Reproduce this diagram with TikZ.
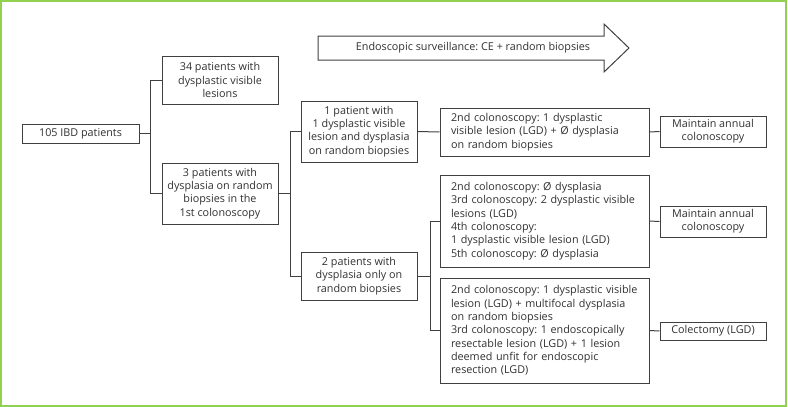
\documentclass[tikz,border=0pt]{standalone}
\usepackage{fontspec}
\setmainfont{Open Sans}
\frenchspacing
\definecolor{boxgray}{HTML}{404040}
\definecolor{txtgray}{HTML}{303030}
\definecolor{framegreen}{HTML}{92D050}
\tikzset{
  box/.style={draw=boxgray, line width=1pt, inner sep=0pt, text=txtgray, align=center,
    font=\fontsize{10.8}{13.3}\selectfont},
  lbox/.style={box, align=left, inner xsep=11pt, text width=187pt},
  conn/.style={draw=boxgray, line width=1pt},
}
\begin{document}
\begin{tikzpicture}[x=1pt,y=-1pt]
\useasboundingbox (0,0) rectangle (788,407);
\draw[framegreen, line width=1.8pt] (1,1) rectangle (786.3,405.8);

% arrow
\draw[boxgray, line width=1pt, fill=white] (318,36) -- (604,36) -- (604,24) -- (629,48) -- (604,72) -- (604,60) -- (318,60) -- cycle;
\node[text=txtgray, font=\fontsize{10.8}{13.3}\selectfont] (arrowtxt) at (473,48) {Endoscopic surveillance: CE + random biopsies};

\node[box, minimum width=117pt, minimum height=19pt] (n105) at (80.5,133.5) {105 IBD patients};
\node[box, minimum width=116pt, minimum height=48pt] (n34) at (220,80) {34 patients with\\dysplastic visible\\lesions};
\node[box, minimum width=116pt, minimum height=61pt] (n3) at (220,193.5) {3 patients with\\dysplasia on random\\biopsies in the\\1st colonoscopy};
\node[box, minimum width=116pt, minimum height=61pt] (n1) at (359,131.5) {1 patient with\\1 dysplastic visible\\lesion and dysplasia\\on random biopsies};
\node[box, minimum width=116pt, minimum height=48pt] (n2) at (359,276) {2 patients with\\dysplasia only on\\random biopsies};

\node[lbox, minimum height=48pt] (c1) at (544.5,132) {2nd colonoscopy: 1 dysplastic\\visible lesion (LGD) + Ø dysplasia\\on random biopsies};
\node[lbox, minimum height=92pt] (c2) at (544.5,221) {2nd colonoscopy: Ø dysplasia\\3rd colonoscopy: 2 dysplastic visible\\lesions (LGD)\\4th colonoscopy:\\1 dysplastic visible lesion (LGD)\\5th colonoscopy: Ø dysplasia};
\node[lbox, minimum height=105pt] (c3) at (544.5,330.5) {2nd colonoscopy: 1 dysplastic visible\\lesion (LGD) + multifocal dysplasia\\on random biopsies\\3rd colonoscopy: 1 endoscopically\\resectable lesion (LGD) + 1 lesion\\deemed unfit for endoscopic\\resection (LGD)};

\node[box, minimum width=106pt, minimum height=31pt] (m1) at (713,131.5) {Maintain annual\\colonoscopy};
\node[box, minimum width=106pt, minimum height=31pt] (m2) at (713,221.5) {Maintain annual\\colonoscopy};
\node[box, minimum width=106pt, minimum height=18pt] (col) at (713,331) {Colectomy (LGD)};

\draw[conn] (n105.east) -- ++(11,0) |- (n34.west);
\draw[conn] (n105.east) -- ++(11,0) |- (n3.west);
\draw[conn] (n3.east) -- ++(12,0) |- (n1.west);
\draw[conn] (n3.east) -- ++(12,0) |- (n2.west);
\draw[conn] (n1.east) -- (c1.west);
\draw[conn] (n2.east) -- ++(13,0) |- (c2.west);
\draw[conn] (n2.east) -- ++(13,0) |- (c3.west);
\draw[conn] (c1.east) -- (m1.west);
\draw[conn] (c2.east) -- (m2.west);
\draw[conn] (c3.east) -- (col.west);
\end{tikzpicture}
\end{document}
